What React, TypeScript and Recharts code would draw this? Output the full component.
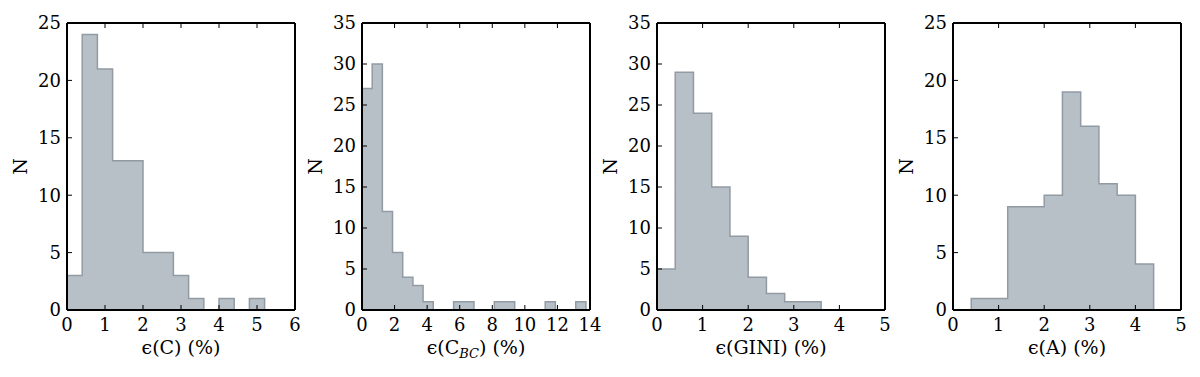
import React from 'react';
import { ComposedChart, Area, XAxis, YAxis, Label } from 'recharts';

// histogram counts, read per bin
const binsC = { start: 0, width: 0.4 };
const countsC = [3, 24, 21, 13, 13, 5, 5, 3, 1, 0, 1, 0, 1];

const binsCBC = { start: 0, width: 0.625 };
const countsCBC = [27, 30, 12, 7, 4, 3, 1, 0, 0, 1, 1, 0, 0, 1, 1, 0, 0, 0, 1, 0, 0, 1];

const binsGini = { start: 0, width: 0.4 };
const countsGini = [5, 29, 24, 15, 9, 4, 2, 1, 1];

const binsA = { start: 0.4, width: 0.4 };
const countsA = [1, 1, 9, 9, 10, 19, 16, 11, 10, 4];

const xTicksC = [0, 1, 2, 3, 4, 5, 6];
const xTicksCBC = [0, 2, 4, 6, 8, 10, 12, 14];
const xTicks5 = [0, 1, 2, 3, 4, 5];
const yTicks25 = [0, 5, 10, 15, 20, 25];
const yTicks35 = [0, 5, 10, 15, 20, 25, 30, 35];

const FONT = "'DejaVu Serif', 'Liberation Serif', serif";
const FS = 18;
const LABEL_FS = 19;
const FILL = '#b7bfc7';
const EDGE = '#929ba4';

const PLOT_W = 228;
const PLOT_TOP = 23;
const CHART_H = 377;
const X_AXIS_H = 67;
const Y_AXIS_W = 57;
const M_LEFT = 5;
const M_RIGHT = 16;

// step outline points: closed at both ends
const toSteps = (bins: { start: number; width: number }, counts: number[]) => {
  const pts = [{ x: bins.start, n: 0 }];
  counts.forEach((c, i) => pts.push({ x: bins.start + i * bins.width, n: c }));
  pts.push({ x: bins.start + counts.length * bins.width, n: 0 });
  return pts;
};

type PanelProps = {
  plotLeft: number;
  data: { x: number; n: number }[];
  xMax: number;
  xTicks: number[];
  yMax: number;
  yTicks: number[];
  xLabel: React.ReactNode;
};

const tickStyle = { fill: '#000', fontSize: FS, fontFamily: FONT };
const axisStroke = { stroke: '#000', strokeWidth: 2 };
const tickLineStyle = { stroke: '#000', strokeWidth: 1 };

const Panel = ({ plotLeft, data, xMax, xTicks, yMax, yTicks, xLabel }: PanelProps) => {
  // top/right axes take 1px each
  const left = plotLeft - Y_AXIS_W - M_LEFT;
  const width = M_LEFT + Y_AXIS_W + PLOT_W + 1 + M_RIGHT;
  return (
    <div style={{ position: 'absolute', left, top: 0, fontFamily: FONT }}>
      <ComposedChart
        width={width}
        height={CHART_H}
        data={data}
        margin={{ top: PLOT_TOP - 1, right: M_RIGHT, bottom: 0, left: M_LEFT }}
        style={{ fontFamily: FONT }}
      >
        <XAxis
          xAxisId="b"
          dataKey="x"
          type="number"
          domain={[0, xMax]}
          ticks={xTicks}
          interval={0}
          height={X_AXIS_H}
          axisLine={axisStroke}
          tickLine={tickLineStyle}
          tickSize={-5}
          tickMargin={13}
          tick={tickStyle}
        >
          <Label
            content={({ viewBox }: any) => (
              <text
                x={viewBox.x + viewBox.width / 2}
                y={viewBox.y + 44}
                textAnchor="middle"
                fontSize={LABEL_FS}
                fontFamily={FONT}
                fill="#000"
              >
                {xLabel}
              </text>
            )}
          />
        </XAxis>
        <XAxis
          xAxisId="t"
          dataKey="x"
          type="number"
          orientation="top"
          domain={[0, xMax]}
          ticks={xTicks}
          interval={0}
          height={1}
          axisLine={axisStroke}
          tickLine={tickLineStyle}
          tickSize={-5}
          tickFormatter={() => ''}
        />
        <YAxis
          yAxisId="l"
          type="number"
          domain={[0, yMax]}
          ticks={yTicks}
          interval={0}
          width={Y_AXIS_W}
          axisLine={axisStroke}
          tickLine={tickLineStyle}
          tickSize={-5}
          tickMargin={11}
          tick={tickStyle}
        >
          <Label
            content={({ viewBox }: any) => {
              const cx = viewBox.x + 10;
              const cy = viewBox.y + viewBox.height / 2;
              return (
                <text
                  x={cx}
                  y={cy}
                  dy="0.35em"
                  textAnchor="middle"
                  transform={`rotate(-90, ${cx}, ${cy})`}
                  fontSize={LABEL_FS}
                  fontFamily={FONT}
                  fill="#000"
                >
                  N
                </text>
              );
            }}
          />
        </YAxis>
        <YAxis
          yAxisId="r"
          type="number"
          orientation="right"
          domain={[0, yMax]}
          ticks={yTicks}
          interval={0}
          width={1}
          axisLine={axisStroke}
          tickLine={tickLineStyle}
          tickSize={-5}
          tickFormatter={() => ''}
        />
        <Area
          xAxisId="b"
          yAxisId="l"
          type="stepAfter"
          dataKey="n"
          stroke={EDGE}
          strokeWidth={1.5}
          fill={FILL}
          fillOpacity={1}
          dot={false}
          activeDot={false}
          isAnimationActive={false}
        />
      </ComposedChart>
    </div>
  );
};

const App = () => {
  return (
    <div style={{ position: 'absolute', left: 0, top: 0, width: 1200, height: 377, background: '#fff' }}>
      <Panel
        plotLeft={67}
        data={toSteps(binsC, countsC)}
        xMax={6}
        xTicks={xTicksC}
        yMax={25}
        yTicks={yTicks25}
        xLabel="ϵ(C) (%)"
      />
      <Panel
        plotLeft={362}
        data={toSteps(binsCBC, countsCBC)}
        xMax={14}
        xTicks={xTicksCBC}
        yMax={35}
        yTicks={yTicks35}
        xLabel={
          <>
            <tspan>ϵ(C</tspan>
            <tspan fontSize={13} fontStyle="italic" dy={4}>BC</tspan>
            <tspan dy={-4}>) (%)</tspan>
          </>
        }
      />
      <Panel
        plotLeft={657}
        data={toSteps(binsGini, countsGini)}
        xMax={5}
        xTicks={xTicks5}
        yMax={35}
        yTicks={yTicks35}
        xLabel="ϵ(GINI) (%)"
      />
      <Panel
        plotLeft={953}
        data={toSteps(binsA, countsA)}
        xMax={5}
        xTicks={xTicks5}
        yMax={25}
        yTicks={yTicks25}
        xLabel="ϵ(A) (%)"
      />
    </div>
  );
};

export default App;
